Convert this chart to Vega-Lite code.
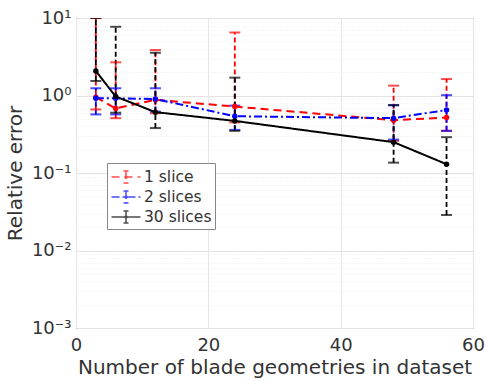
{
  "$schema": "https://vega.github.io/schema/vega-lite/v6.json",
  "width": 397,
  "height": 310,
  "autosize": "none",
  "padding": {"left": 76, "top": 18, "right": 12, "bottom": 53},
  "background": "white",
  "config": {
    "font": "DejaVu Sans",
    "view": {"stroke": "#555", "strokeWidth": 1},
    "axis": {
      "labelFont": "DejaVu Sans",
      "titleFont": "DejaVu Sans",
      "labelFontSize": 18,
      "titleFontSize": 20,
      "titleFontWeight": "normal",
      "labelColor": "#333",
      "titleColor": "#333",
      "domain": false,
      "ticks": false,
      "gridColor": "#e6e6e6",
      "gridWidth": 1
    },
    "legend": {
      "orient": "none",
      "legendX": 31,
      "legendY": 145,
      "fillColor": "white",
      "strokeColor": "#888",
      "padding": 3,
      "labelFont": "DejaVu Sans",
      "labelFontSize": 15.5,
      "labelColor": "#333",
      "symbolType": "M-1.45,0H1.45M0,-0.6V0.6M-0.25,-0.6H0.25M-0.25,0.6H0.25M-0.1,0A0.1,0.1,0,1,0,0.1,0A0.1,0.1,0,1,0,-0.1,0",
      "symbolSize": 400,
      "symbolStrokeWidth": 1.5,
      "symbolOffset": 5,
      "rowPadding": 0,
      "labelOffset": 7
    }
  },
  "data": {
    "values": [
      {"series": "1 slice", "n": 3, "err": 0.95, "lo": 0.66, "hi": 10},
      {"series": "1 slice", "n": 6, "err": 0.68, "lo": 0.51, "hi": 2.68},
      {"series": "1 slice", "n": 12, "err": 0.88, "lo": 0.59, "hi": 3.86},
      {"series": "1 slice", "n": 24, "err": 0.72, "lo": 0.45, "hi": 6.5},
      {"series": "1 slice", "n": 48, "err": 0.48, "lo": 0.26, "hi": 1.34},
      {"series": "1 slice", "n": 56, "err": 0.52, "lo": 0.35, "hi": 1.63},
      {"series": "2 slices", "n": 3, "err": 0.92, "lo": 0.57, "hi": 1.24},
      {"series": "2 slices", "n": 6, "err": 0.92, "lo": 0.57, "hi": 1.24},
      {"series": "2 slices", "n": 12, "err": 0.9, "lo": 0.62, "hi": 1.24},
      {"series": "2 slices", "n": 24, "err": 0.54, "lo": 0.36, "hi": 0.74},
      {"series": "2 slices", "n": 48, "err": 0.51, "lo": 0.27, "hi": 0.75},
      {"series": "2 slices", "n": 56, "err": 0.65, "lo": 0.35, "hi": 1.01},
      {"series": "30 slices", "n": 3, "err": 2.07, "lo": 1.54, "hi": 10},
      {"series": "30 slices", "n": 6, "err": 0.97, "lo": 0.6, "hi": 7.7},
      {"series": "30 slices", "n": 12, "err": 0.61, "lo": 0.38, "hi": 3.56},
      {"series": "30 slices", "n": 24, "err": 0.47, "lo": 0.35, "hi": 1.7},
      {"series": "30 slices", "n": 48, "err": 0.25, "lo": 0.136, "hi": 0.75},
      {"series": "30 slices", "n": 56, "err": 0.13, "lo": 0.0287, "hi": 0.29}
    ]
  },
  "encoding": {
    "x": {
      "field": "n",
      "type": "quantitative",
      "scale": {"domain": [0, 60], "nice": false},
      "axis": {
        "values": [0, 20, 40, 60],
        "title": "Number of blade geometries in dataset",
        "labelPadding": 8,
        "titlePadding": 3,
        "labelFlush": false
      }
    },
    "color": {
      "field": "series",
      "type": "nominal",
      "scale": {"domain": ["1 slice", "2 slices", "30 slices"], "range": ["#ff0000", "#0000ff", "#000000"]},
      "legend": {"title": null}
    }
  },
  "layer": [
    {
      "mark": {"type": "rule", "strokeWidth": 1.8, "strokeDash": [5, 3], "clip": true},
      "encoding": {
        "y": {
          "field": "lo",
          "type": "quantitative",
          "scale": {"type": "log", "domain": [0.001, 10], "nice": false},
          "axis": {
            "values": [0.001, 0.002, 0.003, 0.004, 0.005, 0.006, 0.007, 0.008, 0.009, 0.01, 0.02, 0.03, 0.04, 0.05, 0.06, 0.07, 0.08, 0.09, 0.1, 0.2, 0.3, 0.4, 0.5, 0.6, 0.7, 0.8, 0.9, 1, 2, 3, 4, 5, 6, 7, 8, 9, 10],
            "labelExpr": "datum.value == 10 ? '10¹' : datum.value == 1 ? '10⁰' : datum.value == 0.1 ? '10⁻¹' : datum.value == 0.01 ? '10⁻²' : datum.value == 0.001 ? '10⁻³' : ''",
            "gridDash": {"condition": {"test": "abs(log(datum.value)/LN10 - round(log(datum.value)/LN10)) < 0.001", "value": []}, "value": [1, 2]},
            "gridColor": {"condition": {"test": "abs(log(datum.value)/LN10 - round(log(datum.value)/LN10)) < 0.001", "value": "#e3e3e3"}, "value": "#ececec"},
            "title": "Relative error",
            "labelPadding": 5,
            "titlePadding": 6
          }
        },
        "y2": {"field": "hi"}
      }
    },
    {
      "transform": [{"fold": ["lo", "hi"], "as": ["end", "bound"]}],
      "mark": {"type": "tick", "orient": "horizontal", "size": 11, "thickness": 2, "clip": true},
      "encoding": {
        "y": {"field": "bound", "type": "quantitative"}
      }
    },
    {
      "mark": {"type": "line", "strokeWidth": 2},
      "encoding": {
        "y": {"field": "err", "type": "quantitative"},
        "strokeDash": {
          "field": "series",
          "type": "nominal",
          "scale": {"domain": ["1 slice", "2 slices", "30 slices"], "range": [[8, 5], [8, 3, 2, 3], [1, 0]]},
          "legend": {"title": null}
        }
      }
    },
    {
      "mark": {"type": "point", "filled": true, "size": 30, "opacity": 1},
      "encoding": {
        "y": {"field": "err", "type": "quantitative"}
      }
    }
  ]
}
